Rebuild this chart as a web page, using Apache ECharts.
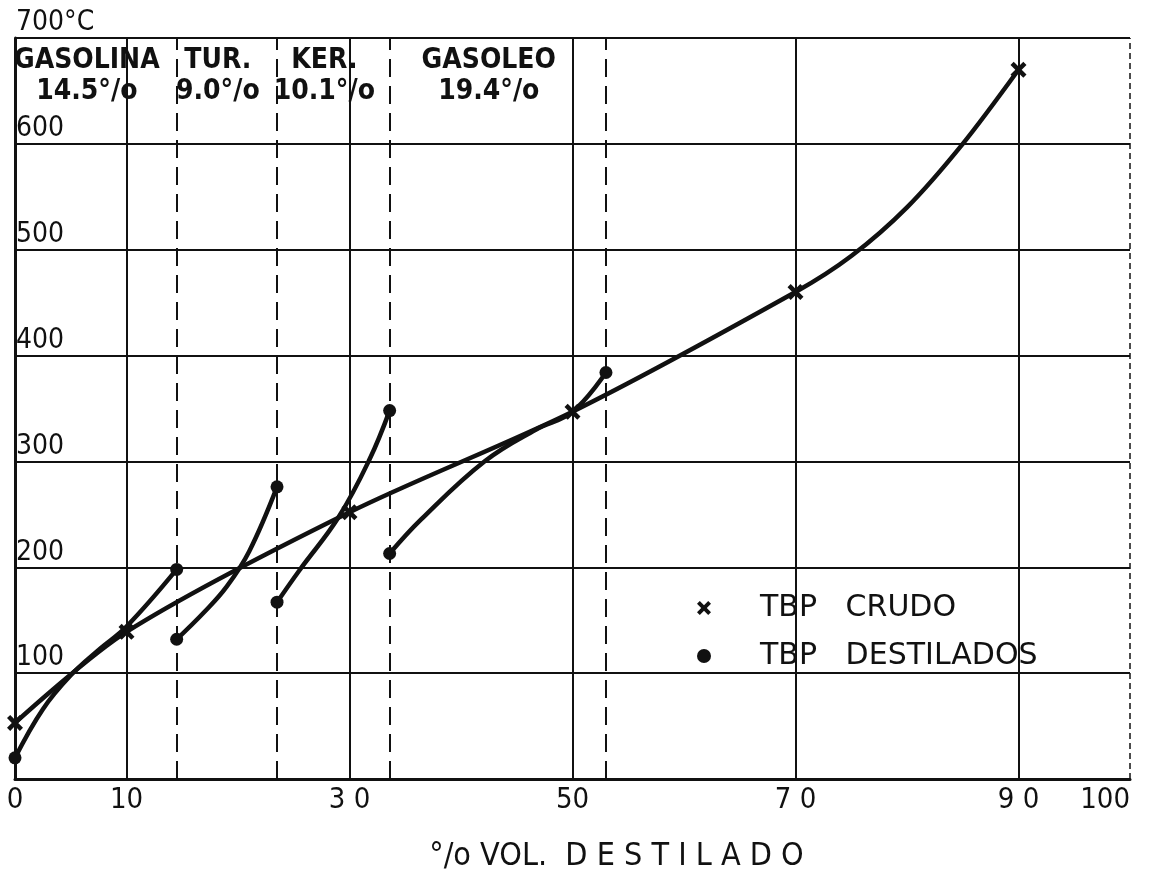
<!DOCTYPE html>
<html><head><meta charset="utf-8">
<script src="https://cdn.jsdelivr.net/npm/echarts@6/dist/echarts.min.js"></script>
<style>html,body{margin:0;padding:0;background:#fff}#c{width:1149px;height:873px}</style>
</head><body><div id="c"></div>
<script>
// ---- data ----
const cutNames = ['GASOLINA', 'TUR.', 'KER.', 'GASOLEO'];
const cutFractions = [14.5, 9.0, 10.1, 19.4];
// crude TBP curve (markers where crudeMarked = 1, others)
const crudeX = [0, 10, 30, 50, 70, 75, 80, 85, 90];
const crudeY = [53, 139, 252, 347, 460, 494, 540, 600, 670];
const crudeMarked = [1, 1, 1, 1, 1, 0, 0, 0, 1];
const gasolinaX = [0, 2.5, 5, 7.5, 10, 14.5];
const gasolinaY = [20, 66, 98, 122, 144, 198];
const turX = [14.5, 17, 19, 21, 23.5];
const turY = [132, 158, 182, 215, 276];
const kerX = [23.5, 25.5, 29, 31.8, 33.6];
const kerY = [167, 197, 247, 302, 348];
const gasoleoX = [33.6, 36.4, 42.1, 46.7, 50, 53.0];
const gasoleoY = [213, 245, 300, 330, 347, 384];
const xTickValues = [0, 10, 30, 50, 70, 90, 100];
const xTickText = ['0', '10', '3 0', '50', '7 0', '9 0', '100'];
const yTickValues = [0, 100, 200, 300, 400, 500, 600, 700];
const yTickText = ['', '100', '200', '300', '400', '500', '600', '700°C'];
const solidGridX = [10, 30, 50, 70, 90];
const xTitle = '°/o VOL.  D E S T I L A D O';
const crudeName = 'TBP   CRUDO';
const distName = 'TBP   DESTILADOS';

// ---- build ----
const FONT = '"DejaVu Sans Condensed", "Liberation Sans Narrow", "DejaVu Sans", sans-serif';
const LFONT = '"DejaVu Sans", sans-serif';
const INK = '#111';
const xPath = 'path://M2,0L5,3L8,0L10,2L7,5L10,8L8,10L5,7L2,10L0,8L3,5L0,2Z';

const cutBounds = [];
let acc = 0;
cutFractions.forEach(f => { const a = acc; acc = Math.round((acc + f) * 10) / 10; cutBounds.push([a, acc]); });

function pts(xs, ys) {
  return xs.map((x, i) => ({
    value: [x, ys[i]],
    symbol: (i === 0 || i === xs.length - 1) ? 'circle' : 'none'
  }));
}
const distSeries = [[gasolinaX, gasolinaY], [turX, turY], [kerX, kerY], [gasoleoX, gasoleoY]].map(([xs, ys]) => ({
  name: distName, type: 'line', smooth: 0.4, data: pts(xs, ys),
  symbolSize: 13, lineStyle: { color: INK, width: 4.5 }, itemStyle: { color: INK },
  z: 5, silent: true
}));

const markLines = solidGridX.map(x => ({ xAxis: x, lineStyle: { type: 'solid', width: 2, color: INK } }))
  .concat(cutBounds.map(b => ({ xAxis: b[1], lineStyle: { type: [18, 9], width: 2, color: INK } })))
  .concat([{ xAxis: 100, lineStyle: { type: [6, 4], width: 1.5, color: INK } }]);

const chart = echarts.init(document.getElementById('c'), null, { renderer: 'canvas' });
chart.setOption({
  backgroundColor: '#fff',
  animation: false,
  grid: { left: 15, right: 19, top: 38, bottom: 94, containLabel: false, outerBoundsMode: 'none' },
  legend: {
    orient: 'vertical', left: 692, top: 588, itemGap: 18, itemWidth: 14, itemHeight: 14,
    textStyle: { fontFamily: LFONT, fontSize: 30, color: INK, padding: [0, 0, 0, 44] },
    data: [{ name: crudeName, icon: xPath }, { name: distName, icon: 'circle' }],
    selectedMode: false
  },
  xAxis: {
    type: 'value', min: 0, max: 100, interval: 10,
    name: xTitle, nameLocation: 'middle', nameGap: 62,
    nameTextStyle: { fontFamily: FONT, fontSize: 32, color: INK, padding: [0, 0, 0, 88] },
    axisLine: { show: true, lineStyle: { color: INK, width: 3 } },
    axisTick: { show: false },
    splitLine: { show: false },
    axisLabel: {
      margin: 7, fontFamily: FONT, fontSize: 29, color: INK, alignMaxLabel: 'right',
      formatter: v => { const i = xTickValues.indexOf(v); return i < 0 ? '' : xTickText[i]; }
    }
  },
  yAxis: {
    type: 'value', min: 0, max: 700, interval: 100,
    axisLine: { show: true, lineStyle: { color: INK, width: 3 } },
    axisTick: { show: false },
    splitLine: { show: true, lineStyle: { color: INK, width: 2 } },
    axisLabel: {
      inside: true, margin: 1, verticalAlign: 'bottom', align: 'left', padding: [0, 0, 1, 0],
      fontFamily: FONT, fontSize: 28, color: INK,
      formatter: v => { const i = yTickValues.indexOf(v); return i < 0 ? '' : yTickText[i]; }
    }
  },
  series: [{
    name: crudeName, type: 'line', smooth: 0.3,
    data: crudeX.map((x, i) => ({ value: [x, crudeY[i]], symbol: crudeMarked[i] ? xPath : 'none' })),
    symbolSize: 16, lineStyle: { color: INK, width: 4.5 }, itemStyle: { color: INK },
    z: 5, silent: true,
    markLine: { silent: true, symbol: 'none', label: { show: false }, data: markLines, z: 2 }
  }].concat(distSeries)
});

// cut labels placed from the cut boundaries
const plotTop = chart.convertToPixel({ gridIndex: 0 }, [0, 700])[1];
const texts = [];
cutBounds.forEach((b, i) => {
  const cx = chart.convertToPixel({ gridIndex: 0 }, [(b[0] + b[1]) / 2, 700])[0] - 9;
  texts.push({ type: 'text', x: cx, y: plotTop + 23, style: { text: cutNames[i], fill: INK, font: 'bold 28px ' + FONT, align: 'center', verticalAlign: 'middle' } });
  texts.push({ type: 'text', x: cx, y: plotTop + 54, style: { text: cutFractions[i].toFixed(1) + '°/o', fill: INK, font: 'bold 28px ' + FONT, align: 'center', verticalAlign: 'middle' } });
});
chart.setOption({ graphic: texts });
</script></body></html>
